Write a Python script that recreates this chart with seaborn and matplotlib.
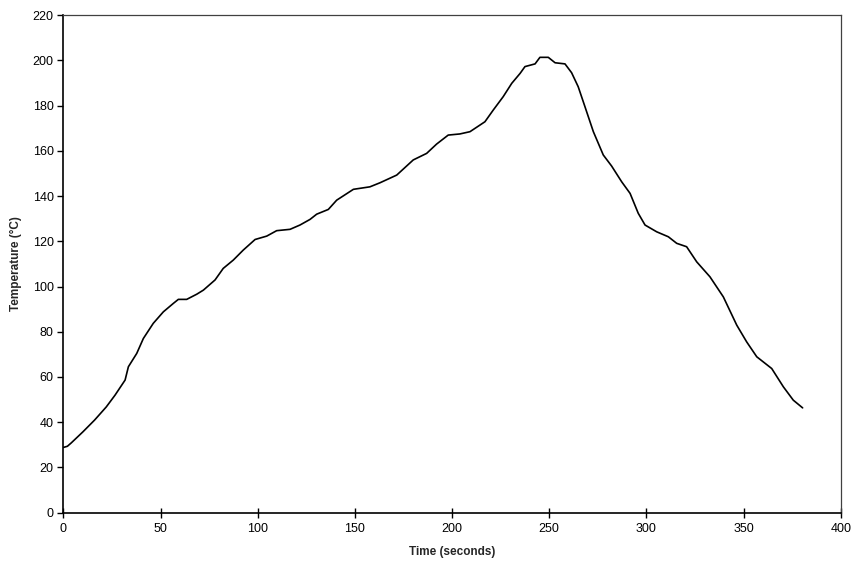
import matplotlib
matplotlib.use("Agg")
import matplotlib.pyplot as plt
import seaborn as sns
import pandas as pd

time_s = [0, 2, 4, 10, 16, 22, 26.5, 31.7, 33.4, 37.7, 41.1, 46.2, 51.4, 56.5,
          59.1, 63.4, 68.6, 72, 78, 82.2, 87.4, 92.5, 98.6, 104.6, 109.7, 116.6,
          121.7, 126.9, 130.3, 136.3, 140.6, 149.2, 157.7, 162.9, 171.5, 180,
          186.9, 192, 198, 204, 209.2, 216.9, 221.2, 226.3, 230.7, 235, 237.5,
          242.7, 245.2, 249.5, 253, 258.1, 261.5, 264.9, 268.4, 272.7, 277.8,
          282.1, 287.3, 291.6, 295.8, 299.3, 305.3, 311.3, 315.6, 320.7, 325.9,
          332.7, 339.6, 346.5, 351.6, 356.8, 364.5, 370.5, 375.6, 380.4]
temp_c = [28.8, 29.3, 30.8, 35.7, 40.9, 46.7, 51.9, 58.6, 64.5, 70.4, 77, 83.7,
          88.8, 92.5, 94.3, 94.3, 96.6, 98.4, 102.9, 108, 111.7, 116.1, 120.8,
          122.3, 124.7, 125.3, 127.2, 129.7, 132, 134.1, 138.2, 143, 144.1,
          145.9, 149.3, 156, 158.9, 163, 167, 167.5, 168.5, 172.9, 178.1, 184,
          189.9, 194.3, 197.3, 198.5, 201.4, 201.4, 199, 198.5, 194.6, 188.4,
          179.5, 168.5, 158.2, 153.3, 146.3, 141.2, 132.4, 127.2, 124.2, 122,
          119.1, 117.6, 110.9, 104.3, 95.4, 82.9, 75.5, 68.9, 63.7, 55.6, 49.7,
          46.3]
x_ticks = [0, 50, 100, 150, 200, 250, 300, 350, 400]
y_ticks = [0, 20, 40, 60, 80, 100, 120, 140, 160, 180, 200, 220]

sns.set_theme(style="white")
plt.rcParams["font.family"] = ["Liberation Sans", "DejaVu Sans"]

df = pd.DataFrame({"Time (seconds)": time_s, "Temperature (°C)": temp_c})

fig = plt.figure(figsize=(8.54, 5.67), dpi=100)
ax = fig.add_axes([63.5 / 854, 1 - 512.5 / 567, (840.7 - 63.5) / 854, (512.5 - 15.3) / 567])
sns.lineplot(data=df, x="Time (seconds)", y="Temperature (°C)", ax=ax,
             color="black", linewidth=1.2, sort=False)

ax.set_xlim(0, 400)
ax.set_ylim(0, 220)
ax.set_xticks(x_ticks)
ax.set_yticks(y_ticks)
ax.tick_params(axis="x", direction="inout", length=7, width=1, colors="black",
               labelsize=9, pad=4, bottom=True)
ax.tick_params(axis="y", direction="out", length=4, width=1, colors="black",
               labelsize=9, pad=3, left=True)
for s in ["left", "bottom"]:
    ax.spines[s].set_color("black")
    ax.spines[s].set_linewidth(1.2)
for s in ["top", "right"]:
    ax.spines[s].set_color("#404040")
    ax.spines[s].set_linewidth(0.9)
ax.set_xlabel("Time (seconds)", fontsize=8.5, fontweight="bold", labelpad=8)
ax.set_ylabel("Temperature (°C)", fontsize=8.5, fontweight="bold", labelpad=8)
ax.grid(False)

fig.savefig("out.png", dpi=100, facecolor="white")
